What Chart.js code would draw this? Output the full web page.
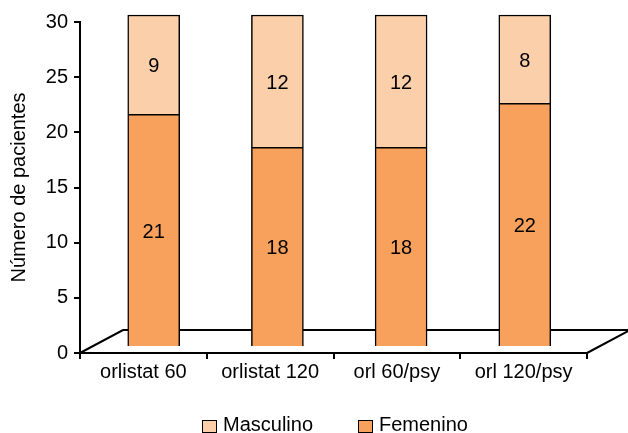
<!DOCTYPE html>
<html>
<head>
<meta charset="utf-8">
<script src="https://cdn.jsdelivr.net/npm/chart.js@4.4.1/dist/chart.umd.min.js"></script>
<style>
  html, body { margin: 0; padding: 0; background: #ffffff; }
  #wrap { width: 628px; height: 433px; position: relative; }
</style>
</head>
<body>
<div id="wrap"><canvas id="c" width="628" height="433"></canvas></div>
<script>
const categories = ['orlistat 60', 'orlistat 120', 'orl 60/psy', 'orl 120/psy'];
const femenino = [21, 18, 18, 22];
const masculino = [9, 12, 12, 8];
const yTicks = [0, 5, 10, 15, 20, 25, 30];
const yTitle = 'Número de pacientes';
const seriesNames = ['Femenino', 'Masculino'];
const colors = { femenino: '#F8A15D', masculino: '#FCCFAB' };

const FONT = 'Arial, "Liberation Sans", sans-serif';
const FS = 20;
const DEPTH_X = 43, DEPTH_Y = 23;

const floorPlugin = {
  id: 'floor',
  beforeDatasetsDraw(chart) {
    const x = chart.scales.x, y = chart.scales.y;
    const y0 = y.getPixelForValue(0);
    const ctx = chart.ctx;
    ctx.save();
    ctx.strokeStyle = '#000';
    ctx.lineWidth = 2;
    ctx.beginPath();
    ctx.moveTo(x.left, y0);
    ctx.lineTo(x.left + DEPTH_X, y0 - DEPTH_Y);
    ctx.lineTo(x.right + DEPTH_X, y0 - DEPTH_Y);
    ctx.lineTo(x.right, y0);
    ctx.stroke();
    ctx.restore();
  }
};

const labelPlugin = {
  id: 'segLabels',
  afterDatasetsDraw(chart) {
    const ctx = chart.ctx;
    ctx.save();
    ctx.fillStyle = '#000';
    ctx.font = FS + 'px ' + FONT;
    ctx.textAlign = 'center';
    ctx.textBaseline = 'middle';
    chart.data.datasets.forEach((ds, di) => {
      const meta = chart.getDatasetMeta(di);
      meta.data.forEach((el, i) => {
        const v = ds.data[i].y;
        ctx.fillText(String(v), el.x, (el.y + el.base) / 2 + 2);
      });
    });
    ctx.restore();
  }
};

// legend drawn from the chart's datasets (reverse order: Masculino, Femenino)
const legendPlugin = {
  id: 'bottomLegend',
  afterDraw(chart) {
    const ctx = chart.ctx;
    const items = chart.data.datasets.slice().reverse();
    const startX = [202, 358];
    const cy = 425;
    ctx.save();
    ctx.font = FS + 'px ' + FONT;
    ctx.textBaseline = 'middle';
    ctx.textAlign = 'left';
    items.forEach((ds, k) => {
      const bx = startX[k];
      ctx.fillStyle = ds.backgroundColor;
      ctx.fillRect(bx, cy - 5, 14, 12);
      ctx.strokeStyle = '#000';
      ctx.lineWidth = 1;
      ctx.strokeRect(bx + 0.5, cy - 4.5, 14, 12);
      ctx.fillStyle = '#000';
      ctx.fillText(ds.label, bx + 21, cy);
    });
    ctx.restore();
  }
};

const toPoints = arr => arr.map((v, i) => ({ x: i, y: v }));

new Chart(document.getElementById('c'), {
  type: 'bar',
  data: {
    labels: categories,
    datasets: [
      {
        label: seriesNames[0],
        data: toPoints(femenino),
        backgroundColor: colors.femenino,
        borderColor: '#000',
        borderWidth: 1.5,
        xAxisID: 'xb', yAxisID: 'yb',
        barThickness: 52,
        clip: false
      },
      {
        label: seriesNames[1],
        data: toPoints(masculino),
        backgroundColor: colors.masculino,
        borderColor: '#000',
        borderWidth: 1.5,
        xAxisID: 'xb', yAxisID: 'yb',
        barThickness: 52,
        clip: false
      }
    ]
  },
  options: {
    responsive: false,
    animation: false,
    layout: { padding: { left: 0, right: 41, top: 22, bottom: 40 } },
    plugins: {
      legend: { display: false },
      tooltip: { enabled: false }
    },
    scales: {
      x: {
        type: 'category',
        offset: true,
        grid: { offset: true, drawOnChartArea: false, color: '#000', lineWidth: 2, tickLength: 6 },
        border: { color: '#000', width: 2 },
        ticks: { color: '#000', font: { family: FONT, size: FS }, padding: 1, maxRotation: 0 },
        afterFit(s) { s.height = 40; }
      },
      y: {
        type: 'linear',
        min: 0, max: 30,
        afterBuildTicks(s) { s.ticks = yTicks.map(v => ({ value: v })); },
        grid: { drawOnChartArea: false, color: '#000', lineWidth: 2, tickLength: 6 },
        border: { color: '#000', width: 2 },
        ticks: { color: '#000', font: { family: FONT, size: FS }, padding: 6 },
        title: { display: true, text: yTitle, color: '#000', font: { family: FONT, size: FS }, padding: { top: 7, bottom: 0 } },
        afterFit(s) { s.width = 80; }
      },
      xb: {
        type: 'linear',
        display: false,
        stacked: true,
        offset: false,
        min: -0.596, max: 3.503
      },
      yb: {
        type: 'linear',
        display: false,
        stacked: true,
        offset: false,
        min: -0.635, max: 29.365
      }
    }
  },
  plugins: [floorPlugin, labelPlugin, legendPlugin]
});
</script>
</body>
</html>
